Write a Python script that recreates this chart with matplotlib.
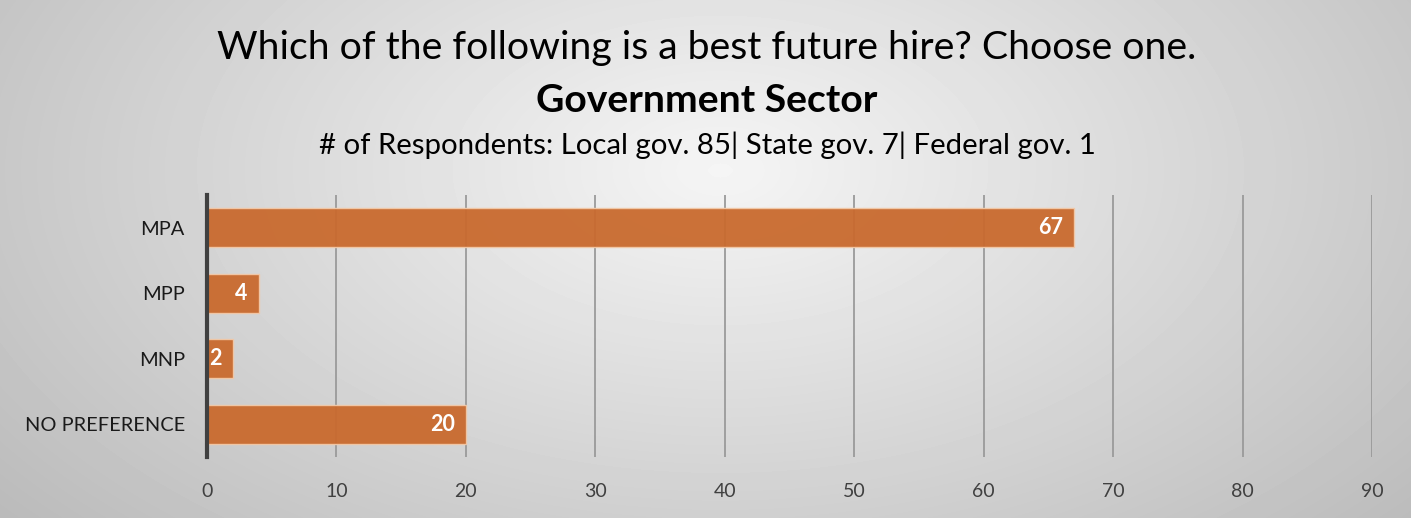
import numpy as np
import matplotlib
matplotlib.use("Agg")
import matplotlib.pyplot as plt

categories = ["MPA", "MPP", "MNP", "NO PREFERENCE"]
values = [67, 4, 2, 20]
x_ticks = [0, 10, 20, 30, 40, 50, 60, 70, 80, 90]

title = "Which of the following is a best future hire? Choose one."
subtitle = "Government Sector"
respondents = "# of Respondents: Local gov. 85| State gov. 7| Federal gov. 1"

plt.rcParams["font.family"] = ["Lato", "DejaVu Sans"]

W, H = 1411, 518
fig = plt.figure(figsize=(W / 100, H / 100), dpi=100)

# radial grey background, brightest near upper centre
bg = fig.add_axes([0, 0, 1, 1], zorder=-10)
yy, xx = np.mgrid[0:H, 0:W]
r = np.sqrt(((xx - 720) / 900.0) ** 2 + ((yy - 170) / 520.0) ** 2)
shade = np.clip(0.96 - 0.22 * r, 0.72, 0.96)
bg.imshow(shade, cmap="gray", vmin=0, vmax=1, aspect="auto", extent=[0, W, H, 0])
bg.set_axis_off()

left, right = 207 / W, 1372 / W
top, bottom = 195 / H, 457 / H
ax = fig.add_axes([left, 1 - bottom, right - left, bottom - top])
ax.set_facecolor("none")

ypos = np.arange(len(categories))
bars = ax.barh(ypos, values, height=0.6, color="#C96A2E", edgecolor="#F2C9A8",
               linewidth=1.0, alpha=0.95, zorder=3)
for b, v in zip(bars, values):
    ax.annotate(str(v), xy=(v, b.get_y() + b.get_height() / 2), xytext=(-8, 0),
                textcoords="offset points", ha="right", va="center",
                color="white", fontsize=15.5, fontweight="bold", zorder=4)

ax.set_xlim(0, 90)
ax.set_ylim(len(categories) - 0.5, -0.5)
ax.set_yticks(ypos)
ax.set_yticklabels(categories, fontsize=14.4, color="#1a1a1a")
ax.set_xticks(x_ticks)
ax.set_xticklabels([str(t) for t in x_ticks], fontsize=14, color="#404040")
ax.tick_params(axis="both", length=0)
ax.tick_params(axis="x", pad=19)
ax.tick_params(axis="y", pad=16)
ax.grid(axis="x", color="#9a9a9a", linewidth=1.3, zorder=1)
for s in ["top", "right", "bottom"]:
    ax.spines[s].set_visible(False)
ax.spines["left"].set_color("#404040")
ax.spines["left"].set_linewidth(3)
ax.spines["left"].set_zorder(5)

fig.text(707 / W, 1 - 48 / H, title, ha="center", va="center", fontsize=28.3, color="black")
fig.text(707 / W, 1 - 100 / H, subtitle, ha="center", va="center", fontsize=28.2,
         fontweight="bold", color="black")
fig.text(707 / W, 1 - 145 / H, respondents, ha="center", va="center", fontsize=21.2,
         color="black")

fig.savefig("out.png", dpi=100)
